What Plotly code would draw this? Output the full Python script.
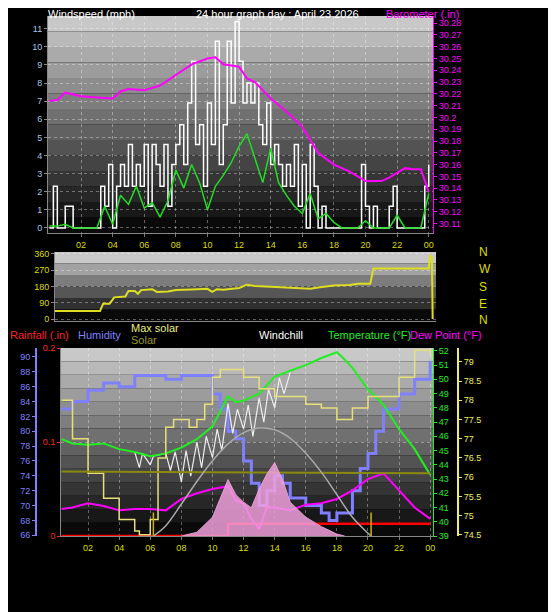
import plotly.graph_objects as go

W, H = 556, 612

# ---- top panel: wind speed + barometer ----
gust_hours = [i * 0.25 for i in range(97)]
gust = [0, 2.3, 0, 0, 1.2, 1.2, 0, 0, 0, 0, 0, 0, 0, 2.3,
        1.2, 3.5, 0, 2.3, 3.5, 2.3, 4.6, 2.3, 3.5, 2.3, 4.6, 1.2, 4.6, 3.5,
        2.3, 4.6, 1.2, 3.5, 4.6, 5.7, 3.5, 6.9, 9.2, 4.6, 5.7, 2.3, 6.9, 4.6, 10.3, 3.5,
        5.7, 10.3, 6.9, 11.4, 9.2, 6.9, 8, 6.9, 8, 5.7, 4.6, 6.9, 3.5, 4.6, 3.5, 2.3,
        3.5, 2.3, 4.6, 1.2, 3.5, 0, 4.6, 2.3, 0, 1.2, 0, 0, 0, 0, 0, 0,
        0, 0, 0, 3.5, 1.2, 0, 1.2, 0, 0, 0, 1.2, 2.3, 0, 0, 0, 0, 0, 0, 0, 2.3, 3.5]

avg_hours = [i * 0.5 for i in range(49)]
avg_wind = [0.1, 0.1, 0.2, 0, 0, 0, 0, 1.2, 0.2, 1.8, 1.3, 2.3, 1.1, 1.4, 0.6, 1.5,
            3.2, 2.2, 3.5, 2.5, 1.0, 2.3, 2.9, 3.6, 4.5, 5.2, 3.9, 2.5, 4.4, 2.5,
            1.8, 1.2, 0.8, 1.9, 0.5, 0.8, 0.3, 0, 0, 0, 0.4, 0, 0, 0, 0.7, 0, 0, 0, 1.9]

baro_hours = [0, 0.5, 1, 2, 3, 4, 4.5, 5, 6, 7, 8, 9, 10, 10.5, 11, 12, 12.5, 13, 14,
              15, 16, 17, 18, 19, 20, 21, 21.5, 22, 22.5, 23, 23.5, 24]
baro = [30.214, 30.215, 30.221, 30.218, 30.217, 30.216, 30.222, 30.224, 30.223, 30.227,
        30.236, 30.245, 30.250, 30.251, 30.245, 30.243, 30.233, 30.230, 30.216, 30.205,
        30.192, 30.170, 30.160, 30.154, 30.146, 30.146, 30.149, 30.153, 30.157, 30.156,
        30.156, 30.137]

# ---- middle panel: wind direction ----
dir_hours = [0.3, 3.2, 3.4, 3.8, 4.1, 4.8, 5.0, 5.4, 5.6, 5.8, 6.5, 6.8, 7.5, 8, 9, 10,
             10.3, 10.6, 11, 12, 12.5, 13, 14, 15, 16, 16.5, 17, 18, 19, 19.5, 20.3,
             20.5, 24, 24.1, 24.2, 24.25]
wind_dir = [45, 45, 85, 85, 120, 125, 155, 155, 140, 160, 165, 150, 152, 160, 163, 167,
            150, 165, 162, 172, 190, 183, 178, 175, 170, 168, 175, 185, 188, 195, 195,
            280, 280, 355, 340, 0]

# ---- bottom panel ----
hum_hours = [0.3, 1, 2, 3, 4, 5, 6, 7, 8, 9, 10, 10.5, 11, 11.5, 12, 12.5, 13, 13.5, 14,
             14.5, 15, 16, 17, 17.5, 18, 19, 19.5, 20, 20.5, 21, 22, 23, 24]
humidity = [83, 84, 85.5, 86.5, 86, 87.5, 87.5, 87, 87.5, 87.5, 85, 83, 80, 79, 76, 73,
            70, 72, 74, 73, 71, 70, 69, 68, 69, 72, 75, 77, 80, 83, 85, 87, 89.5]

temp_hours = [0.3, 1, 2, 3, 4, 5, 6, 7, 8, 9, 10, 10.5, 11, 11.5, 12, 13, 14, 15, 16, 17,
              18, 18.5, 19, 20, 21, 22, 23, 24]
temperature = [45.8, 45.5, 45.4, 45.5, 45.1, 44.9, 44.6, 44.8, 45.2, 45.8, 46.7, 47.8,
               48.8, 48.4, 48.5, 49.0, 50.2, 50.6, 51.0, 51.5, 51.9, 51.4, 50.8, 49.3,
               48.2, 46.5, 45.1, 43.3]

chill_hours = [5.0, 5.3, 5.5, 6.0, 6.2, 7.0, 7.3, 7.6, 8.0, 8.3, 8.6, 9.0, 9.3, 9.6,
               10.0, 10.3, 10.6, 11.0, 11.3, 11.6, 12.0, 12.3, 12.6, 13.0, 13.3, 13.6,
               14.0, 14.3, 14.6, 15.0]
windchill = [44.9, 43.8, 44.8, 44.0, 44.6, 44.8, 43.6, 44.9, 42.8, 45.0, 43.2, 45.6,
             43.8, 46.0, 44.5, 46.5, 45.0, 48.3, 46.2, 47.9, 46.5, 48.2, 46.0, 48.7,
             47.0, 49.3, 48.0, 50.1, 49.0, 50.5]

dew_hours = [0.3, 1, 2, 3, 4, 5, 6, 7, 8, 9, 10, 11, 11.5, 12, 12.5, 13, 13.5, 14, 15,
             16, 17, 18, 19, 20, 21, 22, 23, 24]
dew_point = [40.9, 41.0, 41.3, 41.1, 40.8, 40.9, 40.9, 40.8, 41.6, 42.0, 42.3, 42.5,
             41.5, 41.3, 40.2, 39.5, 41.0, 41.0, 40.8, 41.2, 41.3, 41.6, 42.2, 43.0,
             43.4, 42.2, 41.0, 40.2]

rain_hours = [0.3, 11.0, 11.0, 24.0]
rainfall = [0, 0, 0.013, 0.013]

step_hours = [0.3, 1, 2, 3, 4, 5, 5.3, 6, 6.5, 7, 7.5, 8, 8.5, 9, 9.5, 10, 10.5, 11, 12,
              13, 14, 15, 16, 17, 18, 19, 20, 21, 22, 23, 24]
step_vals = [78.0, 77.0, 76.1, 75.45, 74.9, 74.6, 74.5, 74.9, 76.5, 77.3, 77.5, 77.5,
             77.3, 77.5, 77.9, 78.6, 78.8, 78.8, 78.6, 78.3, 78.1, 78.1, 77.9, 77.8,
             77.5, 77.8, 78.1, 78.1, 78.6, 79.3, 79.2]
olive_hours = [0.3, 24]
olive_vals = [76.15, 76.1]

maxsol_hours = [6.2, 7, 8, 9, 10, 11, 12, 13, 14, 15, 16, 17, 18, 19, 20, 20.2]
max_solar = [0, 55, 170, 290, 400, 490, 550, 574, 565, 520, 440, 340, 220, 100, 15, 0]
sol_hours = [8, 9, 10, 10.5, 11, 11.5, 12, 12.5, 13, 13.5, 14, 14.5, 15, 16, 17, 18, 18.5]
solar = [0, 20, 100, 200, 300, 220, 180, 150, 250, 330, 390, 300, 180, 100, 50, 10, 0]

hour_ticks = list(range(2, 25, 2))
hour_labels = ["%02d" % (h % 24) for h in hour_ticks]


def px(x):
    return x / W


def py(y):
    return 1 - y / H


fig = go.Figure()
fig.add_trace(go.Scatter(x=gust_hours, y=gust, line=dict(color="white", width=1.5, shape="hv"),
                         xaxis="x", yaxis="y"))
fig.add_trace(go.Scatter(x=avg_hours, y=avg_wind, line=dict(color="#22dd22", width=1.5),
                         xaxis="x", yaxis="y"))
fig.add_trace(go.Scatter(x=baro_hours, y=baro, line=dict(color="#ff00ff", width=2),
                         xaxis="x", yaxis="y2"))
fig.add_trace(go.Scatter(x=dir_hours, y=wind_dir, line=dict(color="#dddd22", width=2),
                         xaxis="x2", yaxis="y3"))
fig.add_trace(go.Scatter(x=sol_hours, y=solar, fill="tozeroy", fillcolor="rgba(240,160,220,0.85)",
                         line=dict(color="rgba(240,160,220,0.9)", width=1), xaxis="x3", yaxis="y8"))
fig.add_trace(go.Scatter(x=maxsol_hours, y=max_solar, line=dict(color="#aaaaaa", width=1.5, shape="spline"),
                         xaxis="x3", yaxis="y8"))
fig.add_trace(go.Scatter(x=step_hours, y=step_vals, line=dict(color="#e6e07a", width=1.5, shape="hv"),
                         xaxis="x3", yaxis="y7"))
fig.add_trace(go.Scatter(x=olive_hours, y=olive_vals, line=dict(color="#8a8a10", width=2),
                         xaxis="x3", yaxis="y7"))
fig.add_trace(go.Scatter(x=hum_hours, y=humidity, line=dict(color="#8080ff", width=3, shape="hv"),
                         xaxis="x3", yaxis="y4"))
fig.add_trace(go.Scatter(x=chill_hours, y=windchill, line=dict(color="#eeeeee", width=1.2),
                         xaxis="x3", yaxis="y6"))
fig.add_trace(go.Scatter(x=temp_hours, y=temperature, line=dict(color="#22ee22", width=2),
                         xaxis="x3", yaxis="y6"))
fig.add_trace(go.Scatter(x=dew_hours, y=dew_point, line=dict(color="#ff00ff", width=2),
                         xaxis="x3", yaxis="y6"))
fig.add_trace(go.Scatter(x=rain_hours, y=rainfall, line=dict(color="#ff0000", width=2.5),
                         xaxis="x3", yaxis="y5"))
fig.update_traces(mode="lines", showlegend=False, hoverinfo="skip")

tick = dict(size=9, family="Liberation Sans")
grid = dict(showgrid=True, gridcolor="rgba(255,255,255,0.35)", griddash="dot", zeroline=False,
            automargin=False)
xcommon = dict(tickvals=hour_ticks, ticktext=hour_labels, tickfont=dict(tick, color="#dddd00"),
               ticks="outside", ticklen=3, tickcolor="#777", showline=True, linecolor="#888", **grid)
nogrid = dict(showgrid=False, zeroline=False, automargin=False)

# background gradient bands for the three panels
shapes = []
for (x0, x1, y0, y1, n) in [(40, 425, 8, 225, 14), (47, 428, 244, 313, 6), (53, 425, 340, 528, 14)]:
    for i in range(n):
        g = int(200 - 190 * i / (n - 1))
        shapes.append(dict(type="rect", xref="paper", yref="paper", layer="below", line_width=0,
                           x0=px(x0), x1=px(x1), y0=py(y0 + (y1 - y0) * (i + 1) / n),
                           y1=py(y0 + (y1 - y0) * i / n), fillcolor="rgb(%d,%d,%d)" % (g, g, g)))
for h in [6.2, 20.2]:
    shapes.append(dict(type="line", xref="x3", yref="y5", x0=h, x1=h, y0=0, y1=0.025,
                       line=dict(color="#c8b400", width=1.5)))

fig.update_layout(
    width=W, height=H, margin=dict(l=0, r=0, t=0, b=0),
    paper_bgcolor="black", plot_bgcolor="rgba(0,0,0,0)", shapes=shapes,
    font=dict(family="Liberation Sans", color="white"),
    xaxis=dict(domain=[px(40), px(425)], range=[-0.09, 24.27], anchor="y", **xcommon),
    yaxis=dict(domain=[py(225), py(8)], range=[-0.28, 11.7], dtick=1,
               tickfont=dict(tick, color="#a8c8e8"), ticks="outside", ticklen=3, tickcolor="#888",
               showline=True, linecolor="#888", **grid),
    yaxis2=dict(overlaying="y", side="right", anchor="x", range=[30.102, 30.286], dtick=0.01,
                tickfont=dict(tick, color="#ff00ff"), ticks="outside", ticklen=3, tickcolor="#ff00ff",
                showline=True, linecolor="#ff00ff", **nogrid),
    xaxis2=dict(domain=[px(47), px(428)], range=[0.35, 24.46], anchor="y3", showticklabels=False,
                showline=True, linecolor="#888", **nogrid),
    yaxis3=dict(domain=[py(313), py(244)], range=[-11, 371], tickvals=[0, 90, 180, 270, 360],
                tickfont=dict(tick, color="#dddd00"), ticks="outside", ticklen=3, tickcolor="#888",
                showline=True, linecolor="#888", anchor="x2", **grid),
    xaxis3=dict(domain=[px(53), px(425)], range=[0.26, 24.18], anchor="y5", **xcommon),
    yaxis4=dict(range=[65.9, 91.2], dtick=2, anchor="free", overlaying="y5", position=px(28),
                tickfont=dict(tick, color="#8080ff"), ticks="outside", ticklen=3, tickcolor="#8080ff",
                showline=True, linecolor="#8080ff", linewidth=2, **nogrid),
    yaxis5=dict(domain=[py(528), py(340)], range=[0, 0.2], tickvals=[0, 0.1, 0.2],
                ticktext=["0", "0.1", "0.2"], tickfont=dict(tick, color="#ff2020"),
                ticks="outside", ticklen=3, tickcolor="#ff2020", showline=True, linecolor="#888",
                anchor="x3", **grid),
    yaxis6=dict(range=[39, 52.2], dtick=1, overlaying="y5", side="right", anchor="x3",
                tickfont=dict(tick, color="#22ee22"), ticks="outside", ticklen=3, tickcolor="#22ee22",
                showline=True, linecolor="#22ee22", **nogrid),
    yaxis7=dict(range=[74.47, 79.36], dtick=0.5, overlaying="y5", side="right", anchor="free",
                position=px(450), tickfont=dict(tick, color="#eeee60"), ticks="outside", ticklen=3,
                tickcolor="#eeee60", showline=True, linecolor="#eeee60", linewidth=2, **nogrid),
    yaxis8=dict(range=[0, 1000], overlaying="y5", visible=False),
)

labels = [
    ("Windspeed (mph)", 38, 6, "white", 11),
    ("24 hour graph day : April 23 2026", 186, 6, "white", 11),
    ("Barometer (.in)", 376, 6, "#ff00ff", 11),
    ("N", 469, 244, "#dddd00", 12), ("W", 469, 261, "#dddd00", 12),
    ("S", 469, 279, "#dddd00", 12), ("E", 469, 296, "#dddd00", 12),
    ("N", 469, 312, "#dddd00", 12),
    ("Rainfall (.in)", 0, 327, "#ff2020", 11),
    ("Humidity", 68, 327, "#8080ff", 11),
    ("Max solar", 121, 320, "#eeee80", 11),
    ("Solar", 121, 332, "#9a9a20", 11),
    ("Windchill", 249, 327, "white", 11),
    ("Temperature (°F)", 318, 327, "#22ee22", 11),
    ("Dew Point (°F)", 400, 327, "#ff00ff", 11),
]
for text, x, y, color, size in labels:
    fig.add_annotation(text=text, xref="paper", yref="paper", x=px(x), y=py(y), xanchor="left",
                       yanchor="middle", showarrow=False, font=dict(color=color, size=size))

fig.write_html("out.html")
